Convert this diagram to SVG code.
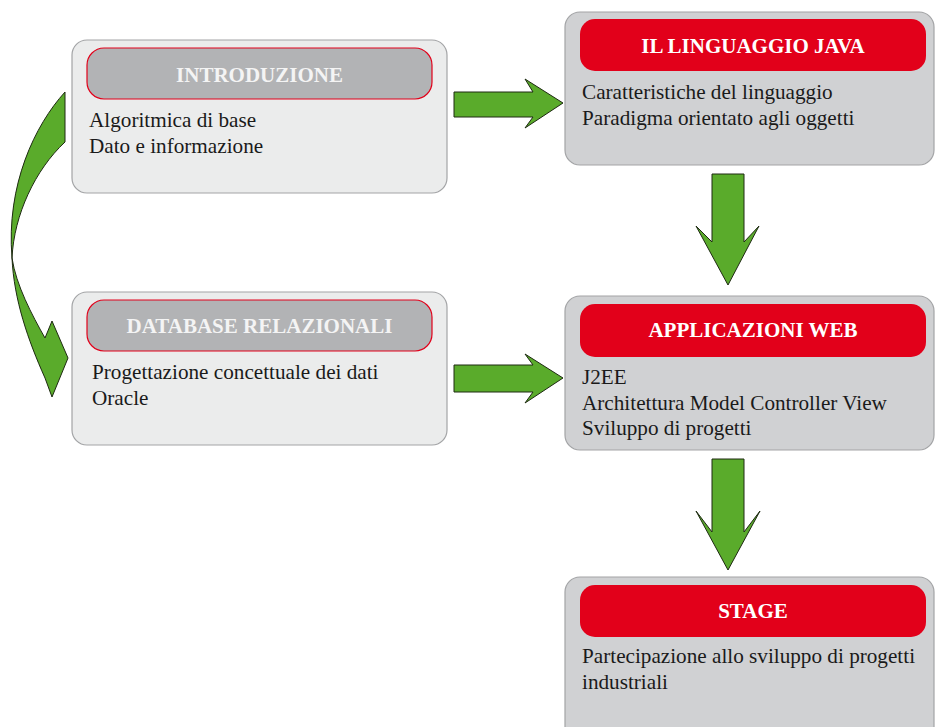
<svg xmlns="http://www.w3.org/2000/svg" width="935" height="727" viewBox="0 0 935 727">
<style>
.outer1{fill:#ebecec;stroke:#a3a4a6;stroke-width:1.2}
.outer2{fill:#d0d1d3;stroke:#a3a4a6;stroke-width:1.2}
.hd1{fill:#b2b3b5;stroke:#e2001a;stroke-width:1.2}
.hd2{fill:#e2001a}
.ht{font-family:"Liberation Serif",serif;font-weight:bold;font-size:21px;fill:#ffffff;text-anchor:middle}
.ht1{fill:#f4f4f4}
.bt{font-family:"Liberation Serif",serif;font-size:21.2px;fill:#1a1a1a}
.arr{fill:#5aab2b;stroke:#1e2a12;stroke-width:1}
</style>
<g id="connectors">
<path class="arr" d="M65,92 C35,125 6,185 12,258 C16,285 32,315 45,338 L52,321 L68,358 L52,397 L45,378 C28,340 14,300 12,258 C14,215 35,170 65,142 Z"/>
<path class="arr" d="M454,92 L533,92 L525,79 L563,103 L525,128 L533,117 L454,117 Z"/>
<path class="arr" d="M454,365 L533,365 L525,354 L563,378 L525,403 L533,392 L454,392 Z"/>
<path class="arr" d="M712,174 L744,174 L744,242 L759,226 L728,285 L696,226 L712,242 Z"/>
<path class="arr" d="M712,459 L744,459 L744,532 L760,511 L728,570 L696,511 L712,532 Z"/>
</g>
<g id="introduzione">
<rect class="outer1" x="72" y="40" width="375" height="153" rx="15"/>
<rect class="hd1" x="87" y="48" width="345" height="51" rx="17"/>
<text class="ht ht1" x="259.5" y="82">INTRODUZIONE</text>
<text class="bt" x="89" y="127">Algoritmica di base</text>
<text class="bt" x="89" y="153">Dato e informazione</text>
</g>
<g id="database">
<rect class="outer1" x="72" y="292" width="375" height="153" rx="15"/>
<rect class="hd1" x="87" y="300" width="345" height="51" rx="17"/>
<text class="ht ht1" x="259.5" y="333">DATABASE RELAZIONALI</text>
<text class="bt" x="92" y="379">Progettazione concettuale dei dati</text>
<text class="bt" x="92" y="405">Oracle</text>
</g>
<g id="java">
<rect class="outer2" x="565" y="12" width="369" height="153" rx="15"/>
<rect class="hd2" x="580" y="19" width="346" height="52" rx="15"/>
<text class="ht" x="753" y="53">IL LINGUAGGIO JAVA</text>
<text class="bt" x="582" y="99">Caratteristiche del linguaggio</text>
<text class="bt" x="582" y="125">Paradigma orientato agli oggetti</text>
</g>
<g id="web">
<rect class="outer2" x="565" y="296" width="369" height="154" rx="15"/>
<rect class="hd2" x="580" y="304" width="346" height="53" rx="15"/>
<text class="ht" x="753" y="337">APPLICAZIONI WEB</text>
<text class="bt" x="582" y="384">J2EE</text>
<text class="bt" x="582" y="410">Architettura Model Controller View</text>
<text class="bt" x="582" y="435">Sviluppo di progetti</text>
</g>
<g id="stage">
<rect class="outer2" x="565" y="577" width="369" height="165" rx="15"/>
<rect class="hd2" x="580" y="585" width="346" height="52" rx="15"/>
<text class="ht" x="753" y="618">STAGE</text>
<text class="bt" x="582" y="663">Partecipazione allo sviluppo di progetti</text>
<text class="bt" x="582" y="689">industriali</text>
</g>
</svg>
